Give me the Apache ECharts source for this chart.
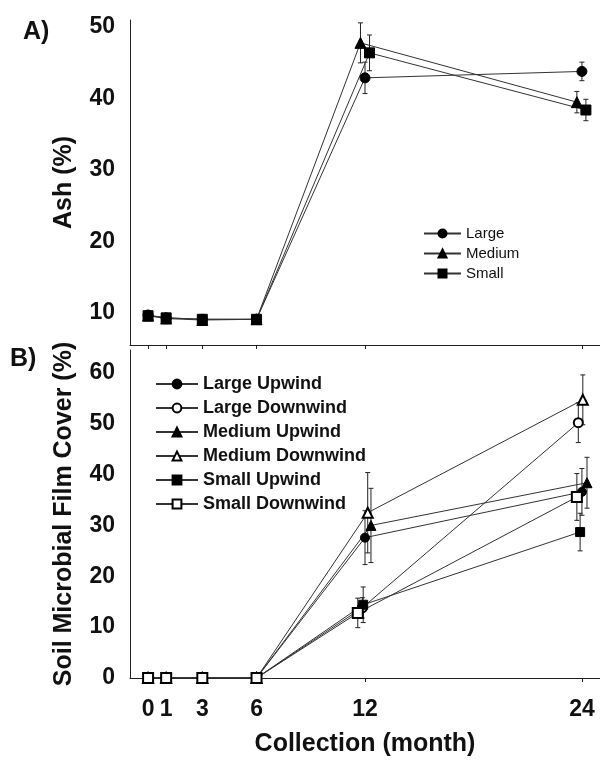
<!DOCTYPE html>
<html lang="en">
<head>
    <meta charset="utf-8"/>
    <title>Ash and soil microbial film cover</title>
    <script src="https://cdn.jsdelivr.net/npm/echarts@6.0.0/dist/echarts.min.js"></script>
    <style>
        html, body { margin: 0; padding: 0; background: #fff; }
        #chart { width: 600px; height: 766px; }
    </style>
</head>
<body>
<div id="chart"></div>
<script>
    // collection months (x tick labels)
    var months = [0, 1, 3, 6, 12, 24];
    var ashTicks = [10, 20, 30, 40, 50];
    var coverTicks = [0, 10, 20, 30, 40, 50, 60];

    // A) ash (%), x values carry the small side-by-side offset seen in the figure
    var ashLargeX = [0, 1, 3, 6, 12, 24];
    var ashLarge = [9.7, 9.3, 9.1, 9.1, 42.9, 43.8];
    var ashLargeErr = [0, 0, 0, 0, 2.2, 1.3];
    var ashMediumX = [0, 1, 3, 6, 11.75, 23.72];
    var ashMedium = [9.6, 9.2, 9.0, 9.1, 47.8, 39.5];
    var ashMediumErr = [0, 0, 0, 0, 2.8, 1.5];
    var ashSmallX = [0, 1, 3, 6, 12.25, 24.22];
    var ashSmall = [9.6, 9.3, 9.1, 9.1, 46.4, 38.4];
    var ashSmallErr = [0, 0, 0, 0, 2.5, 1.5];

    // B) soil microbial film cover (%)
    var largeUpX = [0, 1, 3, 6, 12, 24];
    var largeUp = [0, 0, 0, 0, 27.6, 36.6];
    var largeUpErr = [0, 0, 0, 0, 5.3, 4.6];
    var largeDownX = [0, 1, 3, 6, 11.85, 23.8];
    var largeDown = [0, 0, 0, 0, 13.8, 50.2];
    var largeDownErr = [0, 0, 0, 0, 2.0, 3.9];
    var mediumUpX = [0, 1, 3, 6, 12.33, 24.28];
    var mediumUp = [0, 0, 0, 0, 30.0, 38.4];
    var mediumUpErr = [0, 0, 0, 0, 7.3, 5.0];
    var mediumDownX = [0, 1, 3, 6, 12.15, 24.05];
    var mediumDown = [0, 0, 0, 0, 32.5, 54.7];
    var mediumDownErr = [0, 0, 0, 0, 7.9, 4.9];
    var smallUpX = [0, 1, 3, 6, 11.9, 23.9];
    var smallUp = [0, 0, 0, 0, 14.4, 28.7];
    var smallUpErr = [0, 0, 0, 0, 3.5, 3.7];
    var smallDownX = [0, 1, 3, 6, 11.6, 23.72];
    var smallDown = [0, 0, 0, 0, 12.8, 35.6];
    var smallDownErr = [0, 0, 0, 0, 2.9, 4.6];

    var FONT = 'Liberation Sans, Arial, sans-serif';
    var INK = '#111';
    var LINE = '#333';

    function pairs(xs, ys) {
        return xs.map(function (x, i) { return [x, ys[i]]; });
    }

    function lineSeries(name, xs, ys, symbol, idx, size) {
        return {
            name: name,
            type: 'line',
            xAxisIndex: idx,
            yAxisIndex: idx,
            data: pairs(xs, ys),
            symbol: symbol,
            symbolSize: size,
            showSymbol: true,
            lineStyle: { color: LINE, width: 1 },
            itemStyle: { color: '#000', borderColor: '#000', borderWidth: 1 },
            z: 3
        };
    }

    // error bars drawn through the axes' own coord()
    function errorSeries(xs, ys, errs, idx) {
        var data = [];
        for (var i = 0; i < xs.length; i++) {
            if (errs[i] > 0) data.push([xs[i], ys[i], errs[i]]);
        }
        return {
            type: 'custom',
            xAxisIndex: idx,
            yAxisIndex: idx,
            data: data,
            silent: true,
            z: 2,
            renderItem: function (params, api) {
                var x = api.value(0), y = api.value(1), e = api.value(2);
                var hi = api.coord([x, y + e]);
                var lo = api.coord([x, y - e]);
                var w = 2.5;
                var st = { stroke: '#222', lineWidth: 1 };
                return {
                    type: 'group',
                    children: [
                        { type: 'line', shape: { x1: hi[0], y1: hi[1], x2: lo[0], y2: lo[1] }, style: st },
                        { type: 'line', shape: { x1: hi[0] - w, y1: hi[1], x2: hi[0] + w, y2: hi[1] }, style: st },
                        { type: 'line', shape: { x1: lo[0] - w, y1: lo[1], x2: lo[0] + w, y2: lo[1] }, style: st }
                    ]
                };
            }
        };
    }

    var chart = echarts.init(document.getElementById('chart'));

    var xAxisBase = function (idx, showLabels) {
        return {
            type: 'value',
            gridIndex: idx,
            min: -1,
            max: 25,
            splitLine: { show: false },
            axisLine: { show: true, onZero: false, lineStyle: { color: '#222', width: 1 } },
            axisTick: { show: true, length: 4, customValues: months, lineStyle: { color: '#222' } },
            axisLabel: {
                show: showLabels,
                customValues: months,
                margin: 20,
                fontFamily: FONT,
                fontWeight: 'bold',
                fontSize: 23,
                color: INK
            }
        };
    };

    var yAxisBase = function (idx, min, max, name, ticks) {
        return {
            type: 'value',
            gridIndex: idx,
            min: min,
            max: max,
            name: name,
            nameLocation: 'middle',
            nameGap: 53,
            nameTextStyle: { fontFamily: FONT, fontWeight: 'bold', fontSize: 25, color: INK },
            splitLine: { show: false },
            axisLine: { show: true, onZero: false, lineStyle: { color: '#222', width: 1 } },
            axisTick: { show: false },
            axisLabel: {
                customValues: ticks,
                margin: 15,
                fontFamily: FONT, fontWeight: 'bold', fontSize: 23, color: INK
            }
        };
    };

    var option = {
        animation: false,
        backgroundColor: '#fff',
        grid: [
            { left: 130, top: 20, width: 470, height: 325, containLabel: false, outerBoundsMode: 'none' },
            { left: 130, top: 350, width: 470, height: 328, containLabel: false, outerBoundsMode: 'none' }
        ],
        graphic: [
            { type: 'text', left: 23, top: 20, style: { text: 'A)', font: 'bold 25px ' + FONT, fill: INK } },
            { type: 'text', left: 10, top: 347, style: { text: 'B)', font: 'bold 25px ' + FONT, fill: INK } }
        ],
        xAxis: [
            xAxisBase(0, false),
            Object.assign(xAxisBase(1, true), {
                name: 'Collection (month)',
                nameLocation: 'middle',
                nameGap: 54,
                nameTextStyle: { fontFamily: FONT, fontWeight: 'bold', fontSize: 25, color: INK }
            })
        ],
        yAxis: [
            yAxisBase(0, 5.5, 51, 'Ash (%)', ashTicks),
            yAxisBase(1, 0, 64.5, 'Soil Microbial Film Cover (%)', coverTicks)
        ],
        legend: [
            {
                data: ['Large', 'Medium', 'Small'],
                orient: 'vertical',
                left: 418,
                top: 221,
                itemWidth: 37,
                itemHeight: 10,
                itemGap: 5,
                selectedMode: false,
                textStyle: { fontFamily: FONT, fontSize: 15, color: INK }
            },
            {
                data: ['Large Upwind', 'Large Downwind', 'Medium Upwind', 'Medium Downwind', 'Small Upwind', 'Small Downwind'],
                orient: 'vertical',
                left: 150,
                top: 370,
                itemWidth: 42,
                itemHeight: 11,
                itemGap: 6,
                selectedMode: false,
                textStyle: { fontFamily: FONT, fontSize: 18, fontWeight: 'bold', color: INK }
            }
        ],
        series: [
            errorSeries(ashLargeX, ashLarge, ashLargeErr, 0),
            errorSeries(ashMediumX, ashMedium, ashMediumErr, 0),
            errorSeries(ashSmallX, ashSmall, ashSmallErr, 0),
            lineSeries('Large', ashLargeX, ashLarge, 'circle', 0, 10),
            lineSeries('Medium', ashMediumX, ashMedium, 'triangle', 0, 11),
            lineSeries('Small', ashSmallX, ashSmall, 'rect', 0, 10),

            errorSeries(largeUpX, largeUp, largeUpErr, 1),
            errorSeries(largeDownX, largeDown, largeDownErr, 1),
            errorSeries(mediumUpX, mediumUp, mediumUpErr, 1),
            errorSeries(mediumDownX, mediumDown, mediumDownErr, 1),
            errorSeries(smallUpX, smallUp, smallUpErr, 1),
            errorSeries(smallDownX, smallDown, smallDownErr, 1),
            lineSeries('Large Upwind', largeUpX, largeUp, 'circle', 1, 9),
            lineSeries('Large Downwind', largeDownX, largeDown, 'emptyCircle', 1, 9),
            lineSeries('Medium Upwind', mediumUpX, mediumUp, 'triangle', 1, 10),
            lineSeries('Medium Downwind', mediumDownX, mediumDown, 'emptyTriangle', 1, 10),
            lineSeries('Small Upwind', smallUpX, smallUp, 'rect', 1, 9),
            lineSeries('Small Downwind', smallDownX, smallDown, 'emptyRect', 1, 10)
        ]
    };

    chart.setOption(option);
</script>
</body>
</html>
